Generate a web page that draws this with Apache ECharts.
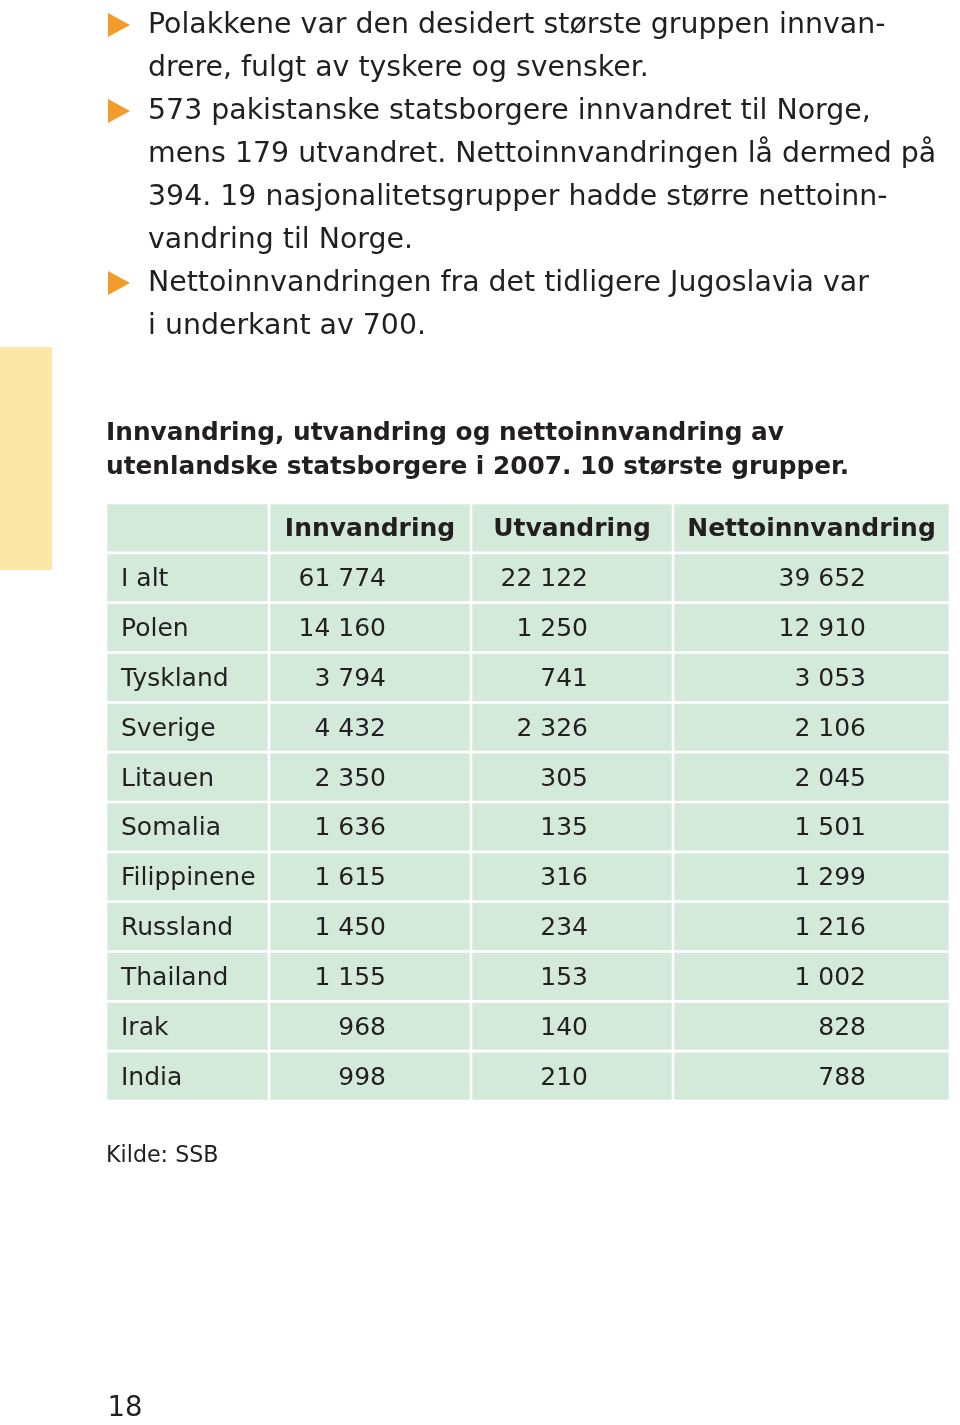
<!DOCTYPE html>
<html>
<head>
<meta charset="utf-8">
<script src="https://cdn.jsdelivr.net/npm/echarts@6/dist/echarts.min.js"></script>
<style>
html,body{margin:0;padding:0;background:#fff;}
#main{width:960px;height:1425px;}
</style>
</head>
<body>
<div id="main"></div>
<script>
// ---- data ----
const headers = ['', 'Innvandring', 'Utvandring', 'Nettoinnvandring'];
const countries = ['I alt', 'Polen', 'Tyskland', 'Sverige', 'Litauen', 'Somalia', 'Filippinene', 'Russland', 'Thailand', 'Irak', 'India'];
const innvandring = [61774, 14160, 3794, 4432, 2350, 1636, 1615, 1450, 1155, 968, 998];
const utvandring = [22122, 1250, 741, 2326, 305, 135, 316, 234, 153, 140, 210];
const netto = [39652, 12910, 3053, 2106, 2045, 1501, 1299, 1216, 1002, 828, 788];

const bulletLines = [
  [true, 'Polakkene var den desidert største gruppen innvan-'],
  [false, 'drere, fulgt av tyskere og svensker.'],
  [true, '573 pakistanske statsborgere innvandret til Norge,'],
  [false, 'mens 179 utvandret. Nettoinnvandringen lå dermed på'],
  [false, '394. 19 nasjonalitetsgrupper hadde større nettoinn-'],
  [false, 'vandring til Norge.'],
  [true, 'Nettoinnvandringen fra det tidligere Jugoslavia var'],
  [false, 'i underkant av 700.']
];
const titleLines = ['Innvandring, utvandring og nettoinnvandring av', 'utenlandske statsborgere i 2007. 10 største grupper.'];
const sourceText = 'Kilde: SSB';
const pageNumber = '18';

// ---- layout (not data) ----
const colEdges = [0, 163, 365, 567, 844];
const colTextAnchor = [15, 280, 482, 760];
const FONT = '"DejaVu Sans", Verdana, sans-serif';
const TEXT = '#231f20';
const CELL = '#d3eadb';

function fmt(n) {
  return String(n).replace(/\B(?=(\d{3})+(?!\d))/g, ' ');
}

const rowLabels = ['header'].concat(countries);
const cells = [];
for (let c = 0; c < 4; c++) cells.push([c, 0, headers[c]]);
countries.forEach(function (name, i) {
  const r = i + 1;
  cells.push([0, r, name]);
  cells.push([1, r, fmt(innvandring[i])]);
  cells.push([2, r, fmt(utvandring[i])]);
  cells.push([3, r, fmt(netto[i])]);
});

const graphics = [];
// yellow side bar
graphics.push({type: 'rect', left: 0, top: 347, shape: {width: 52, height: 223}, style: {fill: '#fde7a6'}, silent: true});
bulletLines.forEach(function (l, i) {
  const yc = 25 + i * 43;
  if (l[0]) {
    graphics.push({type: 'polygon', shape: {points: [[108, yc - 12], [130, yc], [108, yc + 12]]}, style: {fill: '#f39c2b'}});
  }
  graphics.push({type: 'text', x: 148, y: yc + 1, style: {text: l[1], font: '28.4px ' + FONT, fill: TEXT, textVerticalAlign: 'middle'}});
});
titleLines.forEach(function (t, i) {
  graphics.push({type: 'text', x: 106, y: 434 + i * 34, style: {text: t, font: 'bold 24.8px ' + FONT, fill: TEXT, textVerticalAlign: 'middle'}});
});
graphics.push({type: 'text', x: 106, y: 1156, style: {text: sourceText, font: '22.2px ' + FONT, fill: TEXT, textVerticalAlign: 'middle'}});
graphics.push({type: 'text', x: 107.5, y: 1409, style: {text: pageNumber, font: '27.5px ' + FONT, fill: TEXT, textVerticalAlign: 'middle'}});

const chart = echarts.init(document.getElementById('main'), null, {renderer: 'canvas'});
chart.setOption({
  backgroundColor: '#ffffff',
  animation: false,
  grid: {left: 106, top: 503, width: 844, height: 598},
  xAxis: {type: 'value', min: 0, max: 844, show: false},
  yAxis: {type: 'category', data: rowLabels, inverse: true, show: false},
  graphic: graphics,
  series: [{
    type: 'custom',
    coordinateSystem: 'cartesian2d',
    clip: false,
    data: cells,
    encode: {x: 0, y: 1},
    renderItem: function (params, api) {
      const c = api.value(0);
      const r = api.value(1);
      const txt = cells[params.dataIndex][2];
      const p0 = api.coord([colEdges[c], r]);
      const p1 = api.coord([colEdges[c + 1], r]);
      const h = api.size([0, 1])[1];
      const g = 1.3;
      const x0 = p0[0] + g, x1 = p1[0] - g;
      const yTop = p0[1] - h / 2 + g, yH = h - 2 * g;
      let tx, align, font;
      if (r === 0) {
        tx = (p0[0] + p1[0]) / 2; align = 'center'; font = 'bold 25px ' + FONT;
      } else if (c === 0) {
        tx = api.coord([colTextAnchor[0], r])[0]; align = 'left'; font = '25px ' + FONT;
      } else {
        tx = api.coord([colTextAnchor[c], r])[0]; align = 'right'; font = '25px ' + FONT;
      }
      return {
        type: 'group',
        children: [
          {type: 'rect', shape: {x: x0, y: yTop, width: x1 - x0, height: yH}, style: {fill: CELL}},
          {type: 'text', x: tx, y: p0[1] + 2, style: {text: txt, font: font, fill: TEXT, textAlign: align, textVerticalAlign: 'middle'}}
        ]
      };
    }
  }]
});
</script>
</body>
</html>
